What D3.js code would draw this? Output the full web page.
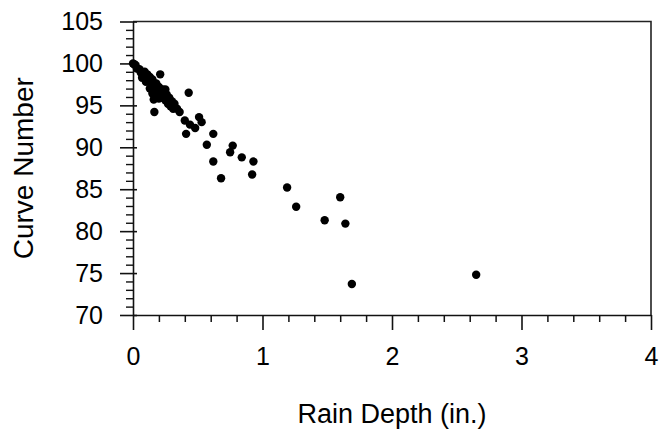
<!DOCTYPE html>
<html>
<head>
<meta charset="utf-8">
<script src="https://cdn.jsdelivr.net/npm/d3@7"></script>
<style>
  html, body { margin: 0; padding: 0; background: #fff; }
  svg { display: block; }
  text { font-family: "Liberation Sans", Arial, Helvetica, sans-serif; fill: #000; }
</style>
</head>
<body>
<svg id="chart" width="660" height="436"></svg>
<script>
// Rain depth (in.)
const rainDepth = [
  0.00, 0.01, 0.02, 0.03, 0.05, 0.06, 0.08, 0.09, 0.10, 0.11, 0.12,
  0.13, 0.14, 0.15, 0.16, 0.16, 0.165, 0.17, 0.18, 0.19, 0.20,
  0.21, 0.21, 0.22, 0.23, 0.24, 0.25, 0.26, 0.27, 0.28, 0.29,
  0.30, 0.31, 0.32, 0.34, 0.36, 0.15, 0.13, 0.18, 0.20, 0.23,
  0.25, 0.27, 0.10, 0.07,
  0.43, 0.40, 0.44, 0.51, 0.53, 0.48, 0.41, 0.62, 0.57, 0.77,
  0.75, 0.84, 0.93, 0.62, 0.92, 0.68, 1.19, 1.26, 1.60, 1.48,
  1.64, 1.69, 2.65
];
// Curve number
const curveNumber = [
  100.0, 99.9, 99.8, 99.4, 99.3, 98.9, 98.6, 99.0, 98.3, 98.7, 98.0,
  98.4, 97.6, 98.1, 97.3, 95.7, 94.2, 96.9, 97.6, 96.6, 97.2,
  98.7, 96.2, 96.8, 95.9, 96.6, 95.6, 96.3, 95.2, 95.9, 94.9,
  95.5, 94.6, 95.2, 94.6, 94.2, 96.4, 97.0, 96.0, 95.8, 96.9,
  96.9, 95.8, 97.8, 98.3,
  96.5, 93.2, 92.7, 93.6, 93.0, 92.3, 91.6, 91.6, 90.3, 90.2,
  89.4, 88.8, 88.3, 88.3, 86.75, 86.3, 85.2, 82.9, 84.05, 81.3,
  80.9, 73.7, 74.8
];
const xTicks = [0, 1, 2, 3, 4];
const yTicks = [70, 75, 80, 85, 90, 95, 100, 105];
const xTitle = "Rain Depth (in.)";
const yTitle = "Curve Number";

const svg = d3.select("#chart");
const mLeft = 133, mRight = 651, mTop = 21.5, mBottom = 315;

const x = d3.scaleLinear().domain([0, 4]).range([mLeft, mRight]);
const y = d3.scaleLinear().domain([70, 105]).range([mBottom, mTop]);

// frame (top and right)
svg.append("path")
  .attr("d", `M${mLeft},${mTop}H${mRight}V${mBottom}`)
  .attr("fill", "none").attr("stroke", "#222").attr("stroke-width", 1.6);

// x axis minor ticks
const xMinor = d3.range(0, 4.0001, 0.2).filter(v => Math.abs(v - Math.round(v)) > 1e-6);
svg.append("g").attr("transform", `translate(0,${mBottom})`)
  .call(d3.axisBottom(x).tickValues(xMinor).tickSize(7).tickFormat(""))
  .call(g => g.select(".domain").remove())
  .call(g => g.selectAll("line").attr("stroke", "#111").attr("stroke-width", 1.5));

// x axis major
svg.append("g").attr("transform", `translate(0,${mBottom})`)
  .call(d3.axisBottom(x).tickValues(xTicks).tickSize(15).tickSizeOuter(0).tickPadding(17).tickFormat(d3.format("d")))
  .call(g => g.select(".domain").attr("stroke", "#111").attr("stroke-width", 1.6))
  .call(g => g.selectAll("line").attr("stroke", "#111").attr("stroke-width", 1.6))
  .call(g => g.selectAll("text").attr("font-size", 25).attr("fill", "#000")
        .style("font-family", "'Liberation Sans', Arial, sans-serif"));

// y axis minor ticks
const yMinor = d3.range(70, 105.001, 1).filter(v => v % 5 !== 0);
svg.append("g").attr("transform", `translate(${mLeft},0)`)
  .call(d3.axisLeft(y).tickValues(yMinor).tickSize(7).tickFormat(""))
  .call(g => g.select(".domain").remove())
  .call(g => g.selectAll("line").attr("stroke", "#111").attr("stroke-width", 1.4));

// y axis major
svg.append("g").attr("transform", `translate(${mLeft},0)`)
  .call(d3.axisLeft(y).tickValues(yTicks).tickSize(13).tickSizeOuter(0).tickPadding(17).tickFormat(d3.format("d")))
  .call(g => g.select(".domain").attr("stroke", "#111").attr("stroke-width", 1.6))
  .call(g => g.selectAll("line").attr("stroke", "#111").attr("stroke-width", 1.6).attr("x2", 4).attr("x1", -13))
  .call(g => g.selectAll("text").attr("font-size", 25).attr("fill", "#000")
        .style("font-family", "'Liberation Sans', Arial, sans-serif"));

// points
const pts = rainDepth.map((d, i) => ({ x: d, y: curveNumber[i] }));
svg.append("g").selectAll("circle").data(pts).join("circle")
  .attr("cx", d => x(d.x)).attr("cy", d => y(d.y)).attr("r", 4.2)
  .attr("fill", "#000");

// titles
svg.append("text").attr("x", (mLeft + mRight) / 2).attr("y", 423)
  .attr("text-anchor", "middle").attr("font-size", 27).text(xTitle);
svg.append("text")
  .attr("transform", `translate(33,${(mTop + mBottom) / 2}) rotate(-90)`)
  .attr("text-anchor", "middle").attr("font-size", 28).text(yTitle);
</script>
</body>
</html>
